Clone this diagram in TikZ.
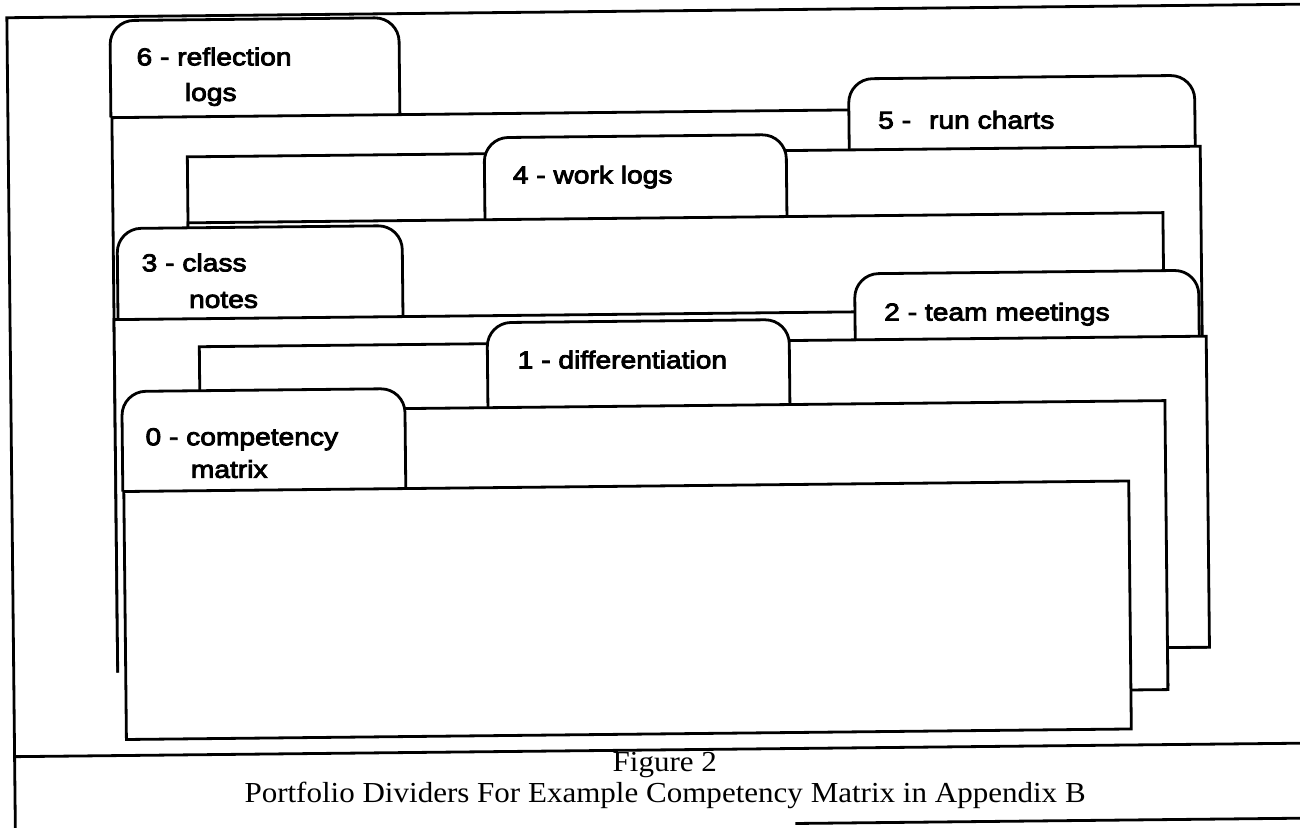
\documentclass[tikz,border=0pt]{standalone}
\usepackage{fontspec}
\newfontfamily\tabfont[FakeStretch=1.15,FakeBold=3.5]{Liberation Sans}
\newfontfamily\capfont[FakeStretch=1.07]{Liberation Serif}
\begin{document}
\begin{tikzpicture}[x=1pt,y=-1pt,
  rule/.style={line width=2.8pt, line cap=butt, line join=miter},
  dividertab/.style={rule, fill=white, rounded corners=24pt},
  dividerbody/.style={rule, fill=white},
  tablabel/.style={font=\tabfont\fontsize{24.5}{28}\selectfont, anchor=base west, inner sep=0pt},
  captext/.style={font=\capfont\fontsize{29}{34}\selectfont, anchor=base, inner sep=0pt}]
\useasboundingbox (0,0) rectangle (1300,827);
\clip (0,0) rectangle (1300,827);
\begin{scope}[rotate around={0.6:(650,413)}]
  % page frame and caption rules
  \draw[rule] (1330,11) -- (11,11) -- (11,860);
  \draw[rule] (11,750) -- (1330,750);
  \draw[rule] (791,825) -- (1330,825);

  % divider 6 (rear)
  \draw[dividertab] (114,112) -- (114,15) -- (403,15) -- (403,112);
  \fill[white] (115,112) rectangle (1150,667);
  \draw[rule] (115,667) -- (115,112) -- (1150,112) -- (1150,667);

  % divider 5
  \draw[dividertab] (852,152) -- (852,81) -- (1198,81) -- (1198,152);
  \draw[dividerbody] (190,152) rectangle (1203,653);

  % divider 4
  \draw[dividertab] (487,218) -- (487,136) -- (789,136) -- (789,218);
  \draw[dividerbody] (190,218) rectangle (1165,690);

  % divider 3
  \draw[dividertab] (119,314) -- (119,223) -- (404,223) -- (404,314);
  \fill[white] (115,314) rectangle (1150,667);
  \draw[rule] (115,667) -- (115,314) -- (1150,314) -- (1150,667);

  % divider 2
  \draw[dividertab] (856,342) -- (856,276) -- (1200,276) -- (1200,342);
  \draw[dividerbody] (200,342) rectangle (1207,653);

  % divider 1
  \draw[dividertab] (488,406) -- (488,321) -- (790,321) -- (790,406);
  \draw[dividerbody] (200,406) rectangle (1165,695);

  % divider 0 (front)
  \draw[dividertab] (122,486) -- (122,386) -- (405,386) -- (405,486);
  \draw[dividerbody] (123,486) rectangle (1128,734);

  % tab labels
  \node[tablabel] (t6a) at (140,60) {6 - reflection};
  \node[tablabel] (t6b) at (188,96) {logs};
  \node[tablabel] (t5)  at (881,131) {5 -\hspace{18pt}run charts};
  \node[tablabel] (t4)  at (515,182) {4 - work logs};
  \node[tablabel] (t3a) at (143,266) {3 - class};
  \node[tablabel] (t3b) at (190,303) {notes};
  \node[tablabel] (t2)  at (885,323) {2 - team meetings};
  \node[tablabel] (t1)  at (518,367) {1 - differentiation};
  \node[tablabel] (t0a) at (145,440) {0 - competency};
  \node[tablabel] (t0b) at (190,473) {matrix};

  % caption
  \node[captext] (fig) at (661,772) {Figure 2};
  \node[captext] (cap) at (661,803) {Portfolio Dividers For Example Competency Matrix in Appendix B};
\end{scope}
\end{tikzpicture}
\end{document}
